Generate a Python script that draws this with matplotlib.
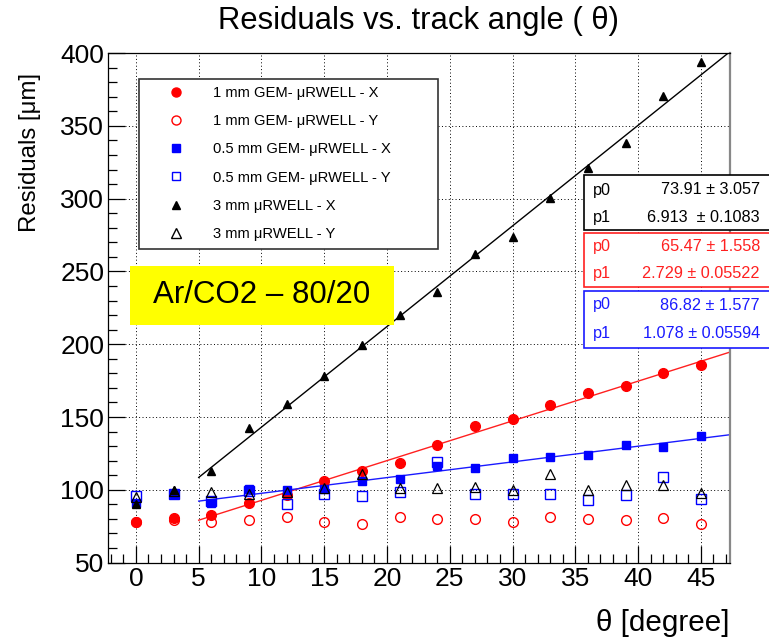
import numpy as np
import matplotlib
matplotlib.use("Agg")
import matplotlib.pyplot as plt
from matplotlib.patches import Rectangle
from matplotlib.lines import Line2D
from matplotlib.ticker import MultipleLocator

plt.rcParams['font.family'] = ['Liberation Sans', 'DejaVu Sans']

# track angle (degree)
angles = [0, 3, 6, 9, 12, 15, 18, 21, 24, 27, 30, 33, 36, 39, 42, 45]

# residuals (um)
gem1_x = [77.7, 80.7, 82.8, 91.1, 96.6, 105.7, 112.6, 118.6, 130.5, 143.8, 148.4, 158.2, 166.5, 171.0, 180.0, 185.6]
gem1_y = [78.0, 79.0, 77.7, 79.3, 81.1, 77.7, 76.2, 81.1, 80.0, 80.0, 77.7, 81.6, 79.6, 79.3, 80.5, 76.7]
gem05_x = [90.8, 96.8, 91.0, 100.7, 100.0, 100.7, 105.9, 107.1, 116.0, 115.1, 121.8, 122.5, 123.6, 130.5, 129.3, 136.9]
gem05_y = [95.4, 97.0, 92.0, 99.0, 89.9, 97.2, 95.6, 98.4, 119.0, 96.8, 96.8, 96.8, 93.1, 96.5, 108.7, 93.8]
rw3_x = [90.4, 100.0, 112.6, 142.4, 159.0, 178.0, 199.3, 220.4, 235.6, 261.7, 273.4, 300.7, 320.9, 338.0, 370.7, 393.6]
rw3_y = [94.9, 99.0, 98.4, 97.2, 98.4, 101.4, 111.0, 101.4, 101.4, 102.0, 100.0, 111.0, 100.0, 103.0, 103.0, 98.0]

labels = ["1 mm GEM- \u03bcRWELL - X", "1 mm GEM- \u03bcRWELL - Y",
          "0.5 mm GEM- \u03bcRWELL - X", "0.5 mm GEM- \u03bcRWELL - Y",
          "3 mm \u03bcRWELL - X", "3 mm \u03bcRWELL - Y"]

# linear fits (black = 3 mm, red = 1 mm, blue = 0.5 mm)
fit_p0 = [73.91, 65.47, 86.82]
fit_p1 = [6.913, 2.729, 1.078]
fit_p0_txt = ["73.91 \u00b1 3.057", "65.47 \u00b1 1.558", "86.82 \u00b1 1.577"]
fit_p1_txt = ["6.913  \u00b1 0.1083", "2.729 \u00b1 0.05522", "1.078 \u00b1 0.05594"]
fit_colors = ['black', '#ff2020', '#1a1aff']

W, H = 769, 640
fig = plt.figure(figsize=(W / 100, H / 100), dpi=100)
ax = fig.add_axes([0.140, 0.121, 0.809, 0.796])

xmin, xmax = -2.25, 47.3
ax.set_xlim(xmin, xmax)
ax.set_ylim(50, 400)

ax.xaxis.set_major_locator(MultipleLocator(5))
ax.xaxis.set_minor_locator(MultipleLocator(1))
ax.yaxis.set_major_locator(MultipleLocator(50))
ax.yaxis.set_minor_locator(MultipleLocator(10))
ax.tick_params(which='both', direction='in', top=False, right=False, width=0.9)
ax.tick_params(which='major', length=12, labelsize=19, pad=3)
ax.tick_params(which='minor', length=6.5)
ax.tick_params(axis='y', which='major', pad=2.5)
ax.grid(True, which='major', color='black', linestyle=(0, (1, 2.5)), linewidth=0.7)
ax.set_axisbelow(True)
for s in ['left', 'bottom', 'top']:
    ax.spines[s].set_linewidth(0.9)
ax.spines['right'].set_color('#888888')
ax.spines['right'].set_linewidth(1.6)

# fit lines
xf = np.array([5.0, xmax])
for p0, p1, c in zip(fit_p0, fit_p1, fit_colors):
    ax.plot(xf, p0 + p1 * xf, color=c, lw=1.0, zorder=2)

red, blue = '#ff0000', '#0000ff'
ax.plot(angles, gem1_x, 'o', color=red, ms=7, zorder=3)
ax.plot(angles, gem1_y, 'o', mfc='none', mec=red, mew=1.0, ms=7, zorder=3)
ax.plot(angles, gem05_x, 's', color=blue, ms=5.5, zorder=3)
ax.plot(angles, gem05_y, 's', mfc='none', mec=blue, mew=1.0, ms=7, zorder=3)
ax.plot(angles, rw3_x, '^', color='black', ms=5.5, zorder=3)
ax.plot(angles, rw3_y, '^', mfc='none', mec='black', mew=0.9, ms=7, zorder=3)


def fx(px):
    return px / W


def fy(py):
    return 1 - py / H


# legend
fig.add_artist(Rectangle((fx(139), fy(249.3)), fx(438) - fx(139), fy(79.3) - fy(249.3),
                         transform=fig.transFigure, facecolor='white', edgecolor='#333333',
                         lw=1.2, zorder=4))
handles = [
    Line2D([], [], ls='', marker='o', color=red, ms=6.5),
    Line2D([], [], ls='', marker='o', mfc='none', mec=red, ms=6.5),
    Line2D([], [], ls='', marker='s', color=blue, ms=5.5),
    Line2D([], [], ls='', marker='s', mfc='none', mec=blue, ms=6),
    Line2D([], [], ls='', marker='^', color='black', ms=5.5),
    Line2D([], [], ls='', marker='^', mfc='none', mec='black', ms=6.5),
]
leg = fig.legend(handles, labels, loc='center left', bbox_to_anchor=(fx(154), fy(163.5)),
                 frameon=False, fontsize=10.6, borderpad=0, handlelength=2.0,
                 handletextpad=1.5, labelspacing=0.96)
leg.set_zorder(5)

# gas box
fig.add_artist(Rectangle((fx(130), fy(324.7)), fx(394) - fx(130), fy(265.7) - fy(324.7),
                         transform=fig.transFigure, facecolor='#ffff00', edgecolor='none',
                         zorder=4))
fig.text(fx(262), fy(295), "Ar/CO2 \u2013 80/20", fontsize=22.5, ha='center', va='center', zorder=5)

# fit stat boxes
boxes = [(175.3, 230.0, 190.0, 217.3), (232.7, 286.7, 246.7, 273.3), (291.0, 348.3, 305.0, 333.3)]
for (top, bot, r0, r1), c, t0, t1 in zip(boxes, fit_colors, fit_p0_txt, fit_p1_txt):
    fig.add_artist(Rectangle((fx(584), fy(bot)), 0.3, fy(top) - fy(bot),
                             transform=fig.transFigure, facecolor='white', edgecolor=c,
                             lw=1.2, zorder=4))
    fig.text(fx(593), fy(r0), "p0", color=c, fontsize=11.7, ha='left', va='center', zorder=5)
    fig.text(fx(593), fy(r1), "p1", color=c, fontsize=11.7, ha='left', va='center', zorder=5)
    fig.text(fx(760), fy(r0), t0, color=c, fontsize=11.7, ha='right', va='center', zorder=5)
    fig.text(fx(760), fy(r1), t1, color=c, fontsize=11.7, ha='right', va='center', zorder=5)

fig.text(fx(418), fy(21), "Residuals vs. track angle ( \u03b8)", fontsize=22.3, ha='center', va='center')
fig.text(fx(730), fy(623), "\u03b8 [degree]", fontsize=21.3, ha='right', va='center')
fig.text(fx(30), fy(73), "Residuals [\u03bcm]", fontsize=17.3, rotation=90, ha='center', va='top')

fig.savefig('out.png', dpi=100)
